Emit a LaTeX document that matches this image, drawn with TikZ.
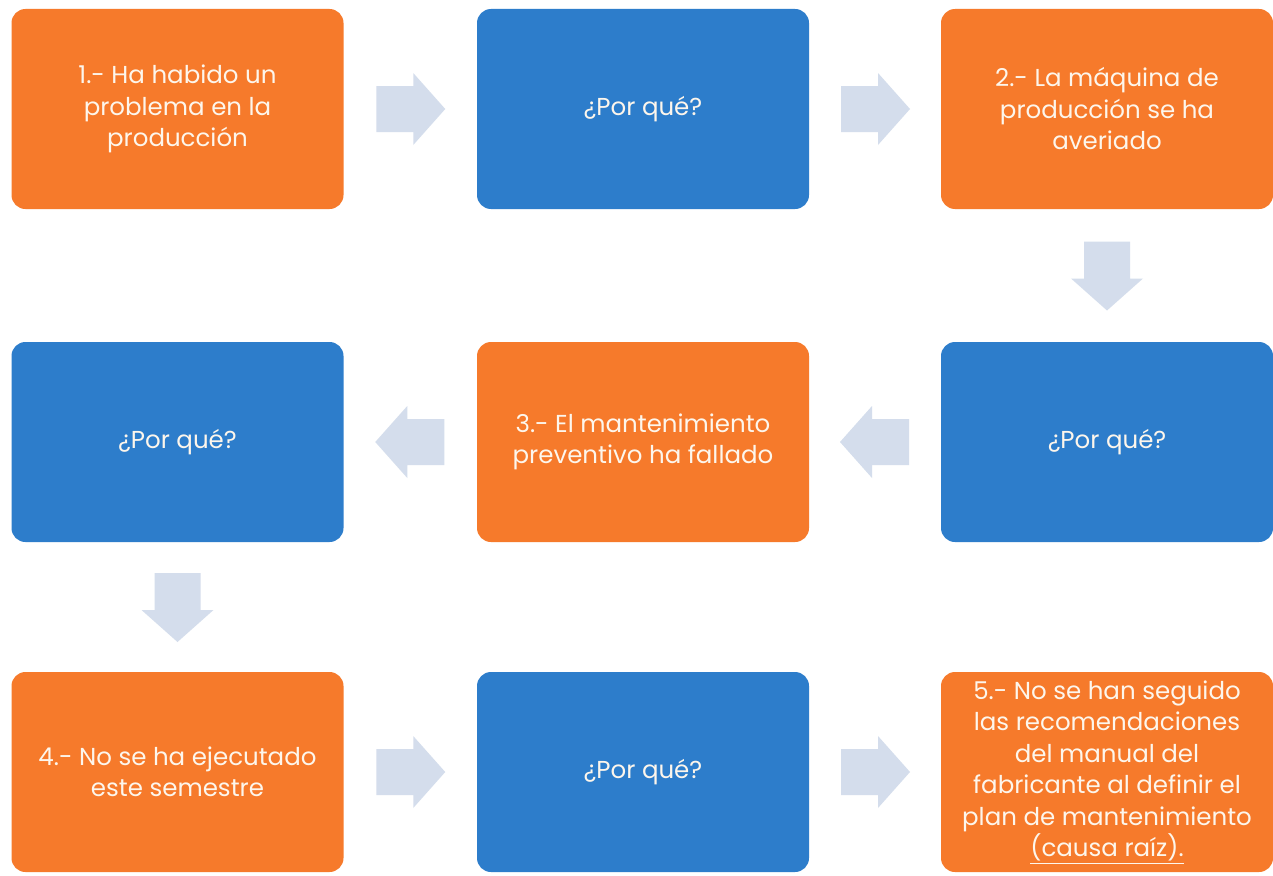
\documentclass[tikz,border=0pt]{standalone}
\usepackage{fontspec}
\setmainfont{Poppins}
\usetikzlibrary{calc}
\definecolor{boxorange}{HTML}{F67A2B}
\definecolor{boxblue}{HTML}{2D7DCB}
\definecolor{arrowc}{HTML}{D4DDEC}
\definecolor{txtc}{HTML}{FDF6EC}
\tikzset{
  stepbox/.style={rounded corners=14pt, minimum width=332pt, minimum height=200pt,
    inner sep=0pt, text=txtc, align=center, font=\fontsize{24.5}{31.5}\selectfont},
  orangebox/.style={stepbox, fill=boxorange},
  bluebox/.style={stepbox, fill=boxblue},
  barrow/.pic={\fill[arrowc, rotate=#1] (-34,-23) -- (3,-23) -- (3,-36) -- (35,0) -- (3,36) -- (3,23) -- (-34,23) -- cycle;}
}
\begin{document}
\begin{tikzpicture}[x=1pt,y=-1pt]
\useasboundingbox (0,0) rectangle (1273,875);
\fill[white] (0,0) rectangle (1273,875);
% row 1
\node[orangebox] (a) at (177.5,109) {1.- Ha habido un\\problema en la\\producción};
\node[bluebox]   (b) at (643,109) {¿Por qué?};
\node[orangebox] (c) at (1107,109) {2.- La máquina de\\producción se ha\\averiado};
% row 2
\node[bluebox]   (d) at (1107,442) {¿Por qué?};
\node[orangebox] (e) at (643,442) {3.- El mantenimiento\\preventivo ha fallado};
\node[bluebox]   (f) at (177.5,442) {¿Por qué?};
% row 3
\node[orangebox] (g) at (177.5,772) {4.- No se ha ejecutado\\este semestre};
\node[bluebox]   (h) at (643,772) {¿Por qué?};
\node[orangebox] (i) at (1107,772) {5.- No se han seguido\\las recomendaciones\\del manual del\\fabricante al definir el\\plan de mantenimiento\\\underline{(causa raíz).}};
% block arrows
\pic at ($(a.east)!0.5!(b.west)$) {barrow=0};
\pic at ($(b.east)!0.5!(c.west)$) {barrow=0};
\pic at ($(c.south)!0.5!(d.north)$) {barrow=-90};
\pic at ($(d.west)!0.5!(e.east)$) {barrow=180};
\pic at ($(e.west)!0.5!(f.east)$) {barrow=180};
\pic at ($(f.south)!0.5!(g.north)$) {barrow=-90};
\pic at ($(g.east)!0.5!(h.west)$) {barrow=0};
\pic at ($(h.east)!0.5!(i.west)$) {barrow=0};
\end{tikzpicture}
\end{document}
